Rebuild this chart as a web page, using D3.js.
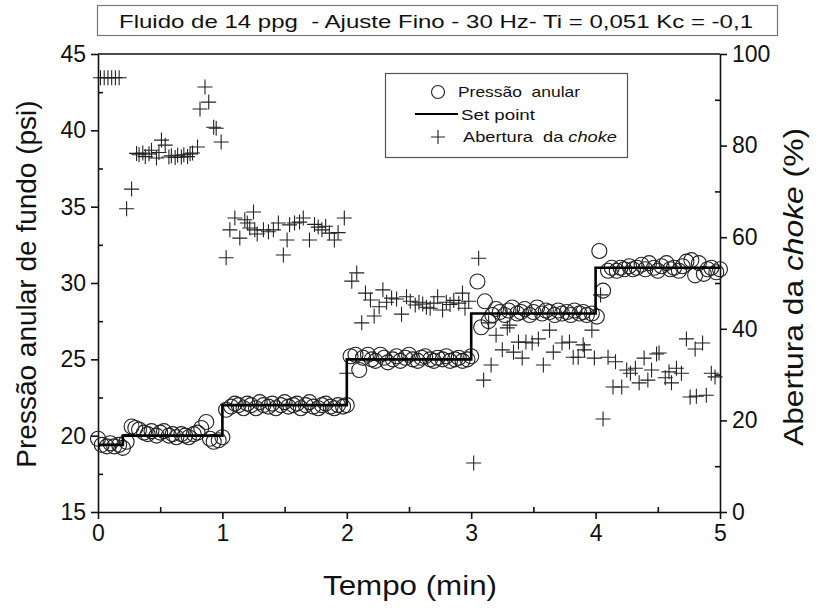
<!DOCTYPE html>
<html><head><meta charset="utf-8">
<script src="https://cdn.jsdelivr.net/npm/d3@7"></script>
<style>
body{margin:0;background:#fff;}
text{font-family:"Liberation Sans",Arial,sans-serif;fill:#111;white-space:pre;}
</style></head>
<body><svg id="c" width="824" height="612"></svg>
<script>
const titleText = "Fluido de 14 ppg  - Ajuste Fino - 30 Hz- Ti = 0,051 Kc = -0,1";
const xTicks = [0,1,2,3,4,5];
const yLeftTicks = [15,20,25,30,35,40,45];
const yRightTicks = [0,20,40,60,80,100];

// Set point (psi), step function [time(min), psi]
const setPoint = [[0,19.4],[0.2,19.4],[0.2,20],[1,20],[1,22],[2,22],[2,25],[3,25],[3,28],[4,28],[4,31],[5,31]];

// Pressão anular [time(min), psi]
const pressure = [
[0.00,19.8],[0.03,19.4],[0.07,19.3],[0.10,19.5],[0.13,19.3],[0.17,19.4],[0.20,19.2],
[0.23,19.6],[0.27,20.6],[0.30,20.5],[0.33,20.4],[0.37,20.2],[0.40,20.1],[0.43,20.3],[0.47,20.0],[0.50,20.2],
[0.53,20.3],[0.57,20.0],[0.60,20.1],[0.63,19.9],[0.67,20.1],[0.70,20.0],[0.73,19.9],[0.77,20.1],[0.80,20.2],
[0.83,20.5],[0.87,20.9],[0.90,19.8],[0.93,19.6],[0.97,19.7],[1.00,19.9],
[1.03,21.7],[1.07,21.9],[1.10,22.1],[1.13,22.0],[1.17,21.8],[1.20,22.1],[1.23,22.0],[1.27,21.8],[1.30,22.2],
[1.33,22.0],[1.37,21.9],[1.40,22.1],[1.43,21.8],[1.47,22.0],[1.50,22.2],[1.53,21.9],[1.57,22.0],[1.60,22.1],
[1.63,21.8],[1.67,22.0],[1.70,22.2],[1.73,21.9],[1.77,21.8],[1.80,22.0],[1.83,22.1],[1.87,21.9],[1.90,21.8],
[1.93,22.0],[1.97,21.9],[2.00,22.0],
[2.03,25.2],[2.07,25.3],[2.10,24.3],[2.13,25.1],[2.17,25.3],[2.20,25.0],[2.23,24.9],[2.27,25.3],[2.30,25.1],
[2.33,24.8],[2.37,25.0],[2.40,25.2],[2.43,24.9],[2.47,25.1],[2.50,25.3],[2.53,25.0],[2.57,24.9],[2.60,25.1],
[2.63,25.2],[2.67,25.0],[2.70,24.9],[2.73,25.1],[2.77,25.0],[2.80,25.2],[2.83,24.9],[2.87,25.0],[2.90,25.1],
[2.93,24.9],[2.97,25.0],[3.00,25.2],
[3.05,30.1],[3.08,27.1],[3.11,28.8],[3.14,27.5],[3.17,27.9],[3.20,28.3],[3.23,28.1],[3.27,27.9],[3.30,28.2],
[3.33,28.4],[3.37,28.0],[3.40,28.1],[3.43,28.3],[3.47,27.9],[3.50,28.1],[3.53,28.4],[3.57,28.0],[3.60,28.2],
[3.63,28.1],[3.67,27.9],[3.70,28.2],[3.73,28.0],[3.77,28.1],[3.80,27.9],[3.83,28.2],[3.87,28.0],[3.90,28.1],
[3.93,27.9],[3.97,28.0],[4.01,27.8],
[4.03,32.1],[4.06,29.5],[4.10,30.8],[4.13,31.0],[4.17,30.8],[4.20,31.0],[4.23,30.9],[4.27,31.1],[4.30,30.9],
[4.33,31.0],[4.37,31.2],[4.40,30.9],[4.43,31.3],[4.47,31.0],[4.50,30.8],[4.53,31.1],[4.57,31.3],[4.60,30.9],
[4.63,31.0],[4.67,30.8],[4.70,31.1],[4.73,31.4],[4.77,31.5],[4.80,30.5],[4.83,31.3],[4.87,30.6],[4.90,30.9],
[4.93,31.0],[4.97,30.7],[5.00,30.9]
];

// Abertura da choke [time(min), %]
const choke = [
[0.02,94.8],[0.05,94.8],[0.08,94.8],[0.11,94.8],[0.14,94.8],[0.17,94.8],
[0.23,66.2],[0.27,70.5],
[0.31,78.3],[0.33,78.0],[0.36,78.4],[0.38,77.6],[0.41,78.2],[0.43,79.0],[0.47,77.3],[0.49,78.5],[0.51,81.2],
[0.54,80.1],[0.57,77.5],[0.59,77.8],[0.62,77.4],[0.64,77.9],[0.67,77.5],[0.69,78.0],[0.72,77.6],[0.74,78.2],
[0.76,78.4],[0.80,79.7],
[0.82,88.0],[0.86,92.8],[0.89,89.5],[0.93,84.0],[0.95,83.8],[0.99,80.8],
[1.03,55.5],[1.06,61.6],[1.10,64.2],[1.14,59.8],[1.18,63.8],[1.20,63.1],[1.22,62.0],[1.25,65.5],[1.26,61.6],
[1.28,60.7],[1.33,61.6],[1.37,61.2],[1.41,61.6],[1.45,63.1],[1.49,56.1],[1.52,59.4],[1.54,62.7],[1.58,63.1],
[1.62,63.3],[1.65,64.2],[1.70,59.4],[1.74,62.8],[1.77,62.2],[1.80,61.6],[1.83,62.4],[1.86,60.9],[1.90,59.4],
[1.93,61.0],[1.98,64.2],
[2.00,30.3],[2.04,50.4],[2.08,52.2],[2.12,41.3],[2.15,47.8],[2.19,46.3],[2.22,42.8],[2.26,44.8],[2.29,48.5],
[2.32,45.8],[2.36,46.7],[2.40,46.5],[2.44,43.2],[2.48,47.0],
[2.51,46.0],[2.55,45.2],[2.58,45.8],[2.61,45.4],[2.64,44.7],[2.67,44.5],[2.70,45.6],[2.73,47.0],[2.77,44.1],
[2.80,45.8],[2.83,45.3],[2.86,46.2],[2.90,45.6],[2.93,47.8],[2.95,44.5],[2.98,46.0],
[3.02,10.7],[3.06,55.4],[3.10,28.8],[3.14,41.3],[3.16,32.1],[3.20,38.6],[3.25,35.4],[3.29,40.2],[3.31,40.8],
[3.34,34.9],[3.38,37.1],[3.41,33.6],[3.44,37.1],[3.49,36.9],[3.54,37.8],[3.58,32.1],[3.63,39.7],[3.66,34.9],
[3.73,36.9],[3.79,37.1],[3.82,33.8],[3.86,33.8],[3.90,36.5],[3.91,35.4],[3.97,39.7],[3.99,33.6],
[4.04,47.4],[4.06,20.3],[4.10,33.8],[4.14,27.3],[4.16,32.8],[4.21,27.3],[4.25,31.0],[4.28,30.3],[4.32,31.4],
[4.35,28.2],[4.39,33.6],[4.42,28.8],[4.45,31.0],[4.49,34.5],[4.51,34.7],[4.56,29.3],[4.59,30.6],[4.61,28.2],
[4.65,31.4],[4.69,30.3],[4.73,37.8],[4.76,25.1],[4.80,35.6],[4.81,25.3],[4.86,36.9],[4.89,25.5],[4.93,30.3],
[4.96,29.5]
];

const svg = d3.select("#c");
const L=98, R=720, T=54, B=512;
const x = d3.scaleLinear().domain([0,5]).range([L,R]);
const yL = d3.scaleLinear().domain([15,45]).range([B,T]);
const yR = d3.scaleLinear().domain([0,100]).range([B,T]);

// Title box
svg.append("rect").attr("x",97.5).attr("y",5.5).attr("width",680).attr("height",30)
  .attr("fill","#fff").attr("stroke","#777").attr("stroke-width",1.2);
svg.append("text").attr("x",119).attr("y",28)
  .attr("font-size",19).attr("textLength",634).attr("lengthAdjust","spacingAndGlyphs").text(titleText);

// Axes
const axStyle = g => { g.selectAll("path,line").attr("stroke","#111").attr("stroke-width",1.6);
  g.selectAll("text").attr("font-family","Liberation Sans, Arial, sans-serif").attr("fill","#111"); };

const gx = svg.append("g").attr("transform",`translate(0,${B})`)
  .call(d3.axisBottom(x).tickValues(xTicks).tickSize(7).tickSizeOuter(0).tickPadding(6).tickFormat(d3.format("d")));
gx.call(axStyle); gx.selectAll("text").attr("font-size",23);
svg.append("g").attr("transform",`translate(0,${B})`)
  .call(d3.axisBottom(x).tickValues([0.5,1.5,2.5,3.5,4.5]).tickSize(-5).tickFormat(""))
  .call(axStyle).select(".domain").remove();

const gl = svg.append("g").attr("transform",`translate(${L},0)`)
  .call(d3.axisLeft(yL).tickValues(yLeftTicks).tickSize(7).tickSizeOuter(0).tickPadding(5));
gl.call(axStyle); gl.selectAll("text").attr("font-size",23);
svg.append("g").attr("transform",`translate(${L},0)`)
  .call(d3.axisLeft(yL).tickValues([17.5,22.5,27.5,32.5,37.5,42.5]).tickSize(-5).tickFormat(""))
  .call(axStyle).select(".domain").remove();

const gr = svg.append("g").attr("transform",`translate(${R},0)`)
  .call(d3.axisRight(yR).tickValues(yRightTicks).tickSize(7).tickSizeOuter(0).tickPadding(5));
gr.call(axStyle); gr.selectAll("text").attr("font-size",23);
svg.append("g").attr("transform",`translate(${R},0)`)
  .call(d3.axisRight(yR).tickValues([10,30,50,70,90]).tickSize(-5).tickFormat(""))
  .call(axStyle).select(".domain").remove();

svg.append("line").attr("x1",L).attr("x2",R).attr("y1",T).attr("y2",T)
  .attr("stroke","#111").attr("stroke-width",1.6);

// Axis titles
svg.append("text").attr("transform",`translate(36,284) rotate(-90)`).attr("text-anchor","middle")
  .attr("font-size",28).text("Pressão anular de fundo (psi)");
const rt = svg.append("text").attr("transform",`translate(803,446) rotate(-90)`)
  .attr("font-size",28).attr("textLength",318).attr("lengthAdjust","spacingAndGlyphs");
rt.append("tspan").text("Abertura da ");
rt.append("tspan").attr("font-style","italic").text("choke");
rt.append("tspan").text(" (%)");
svg.append("text").attr("x",323).attr("y",595)
  .attr("font-size",27).attr("textLength",174).attr("lengthAdjust","spacingAndGlyphs").text("Tempo (min)");

// Choke markers
const crossPath = (cx,cy,s) => `M${cx-s},${cy}H${cx+s}M${cx},${cy-s}V${cy+s}`;
svg.append("g").selectAll("path").data(choke).join("path")
  .attr("d", d => crossPath(x(d[0]), yR(d[1]), 7.5))
  .attr("stroke","#222").attr("stroke-width",1.1).attr("fill","none");

// Pressure circles
svg.append("g").selectAll("circle").data(pressure).join("circle")
  .attr("cx", d => x(d[0])).attr("cy", d => yL(d[1])).attr("r",7.5)
  .attr("fill","none").attr("stroke","#222").attr("stroke-width",1.1);

// Set point line
svg.append("path").datum(setPoint)
  .attr("d", d3.line().x(d => x(d[0])).y(d => yL(d[1])))
  .attr("fill","none").attr("stroke","#000").attr("stroke-width",2.6);

// Legend
svg.append("rect").attr("x",385.5).attr("y",73.5).attr("width",242).attr("height",84)
  .attr("fill","#fff").attr("stroke","#555").attr("stroke-width",1.2);
svg.append("circle").attr("cx",438).attr("cy",92).attr("r",6.5)
  .attr("fill","none").attr("stroke","#222").attr("stroke-width",1.1);
svg.append("text").attr("x",458).attr("y",97).attr("font-size",15)
  .attr("textLength",122).attr("lengthAdjust","spacingAndGlyphs").text("Pressão  anular");
svg.append("line").attr("x1",415).attr("x2",458).attr("y1",114).attr("y2",114)
  .attr("stroke","#000").attr("stroke-width",2.2);
svg.append("text").attr("x",461).attr("y",120).attr("font-size",15)
  .attr("textLength",74).attr("lengthAdjust","spacingAndGlyphs").text("Set point");
svg.append("path").attr("d",crossPath(438,137,7)).attr("stroke","#222").attr("stroke-width",1.1);
const lt = svg.append("text").attr("x",463).attr("y",142).attr("font-size",15)
  .attr("textLength",154).attr("lengthAdjust","spacingAndGlyphs");
lt.append("tspan").text("Abertura  da ");
lt.append("tspan").attr("font-style","italic").text("choke");
</script>
</body></html>
